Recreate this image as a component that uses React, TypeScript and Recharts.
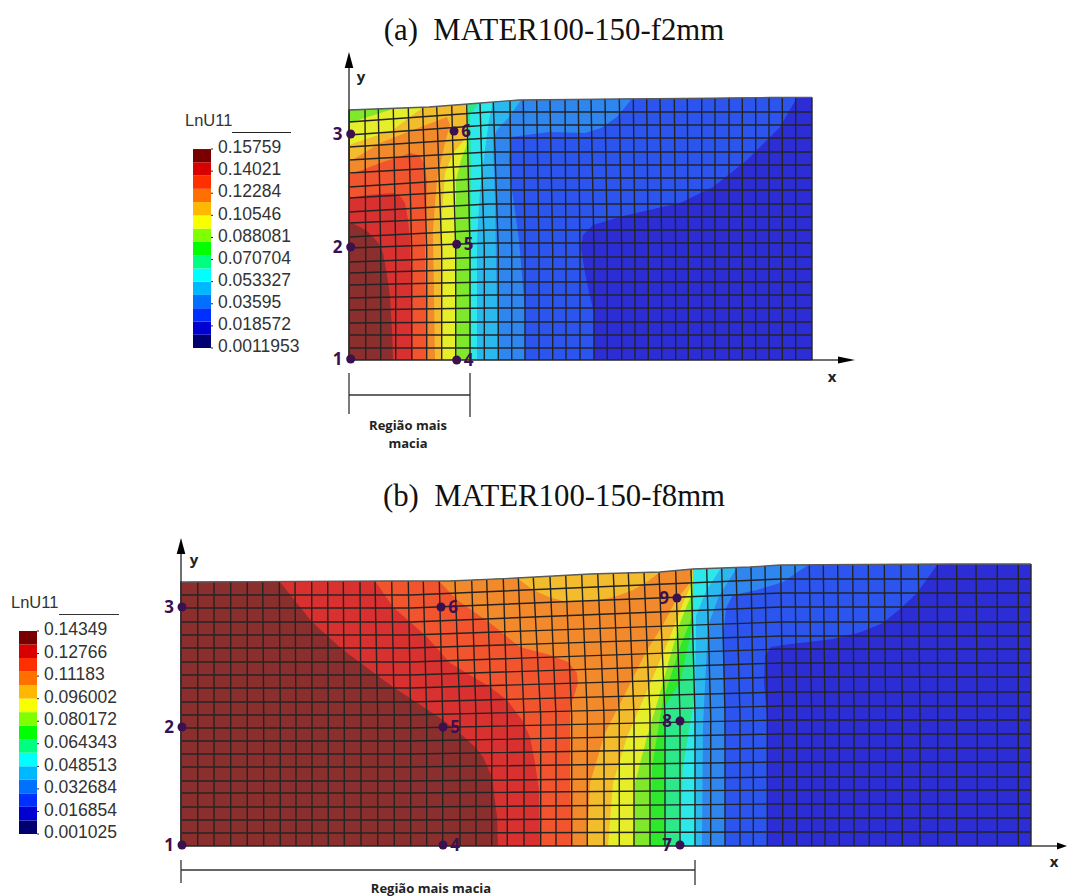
import { Bar, BarChart, LabelList, Scatter, ScatterChart, XAxis, YAxis, ZAxis } from "recharts";

type P = [number, number];

const contourColors = {
  dark: "#2d2dd6",
  blue: "#2c55f0",
  lighter: "#2e86ee",
  sky: "#2ab8ee",
  cyan: "#2de8e8",
  mint: "#2de88a",
  green: "#2ee82e",
  lime: "#80e82a",
  yellow: "#e6ee2a",
  gold: "#f2bc2c",
  orange: "#f28a2c",
  redOrange: "#f2552e",
  red: "#d93030",
  maroon: "#8a2e2e",
};

const swatchColors = [
  "#000070", "#0000d0", "#0030ff", "#0070ff", "#00b8ff", "#00ffff", "#00ff80", "#00ff00",
  "#80ff00", "#f8ff00", "#ffb800", "#ff7000", "#ff3000", "#d80000", "#780000",
];

const ticksA = [0.15759, 0.14021, 0.12284, 0.10546, 0.088081, 0.070704, 0.053327, 0.03595, 0.018572, 0.0011953];
const ticksB = [0.14349, 0.12766, 0.11183, 0.096002, 0.080172, 0.064343, 0.048513, 0.032684, 0.016854, 0.001025];
const swatchesA = [0.01162, 0.01043, 0.01042, 0.01042, 0.01043, 0.01042, 0.01042, 0.01043, 0.01042, 0.01042, 0.01043, 0.01042, 0.01042, 0.01043, 0.01042];
const swatchesB = [0.01058, 0.00950, 0.00949, 0.00950, 0.00950, 0.00949, 0.00950, 0.00950, 0.00949, 0.00950, 0.00950, 0.00949, 0.00950, 0.00950, 0.00949];

// (a) mesh, in units from the lower left corner
const outlineA: P[] = [[0, 0], [463, 0], [463, 262.7], [420, 262.5], [170, 260], [119, 256], [80, 253], [0, 250]];
const topA: P[] = [[170, 260], [119, 256], [80, 253], [0, 250]];
const rowLeftA = [0, 12, 25, 37, 50, 62, 75, 87, 98, 112, 123, 137, 148, 162, 173, 187, 200, 213, 225, 238];
const rowRightA = [0, 12, 25, 38, 52, 65, 78, 91, 103, 117, 130, 143, 156, 170, 182, 195, 208, 222, 235, 248];
const colBottomA = [0.3, 16.7, 31.7, 46.7, 62.7, 77.7, 92.7, 106.7, 121, 135.3, 149.3, 162.7, 176, 190, 203.7, 217, 231, 245, 258.3, 272.7, 286, 299.3, 312.7, 326.7, 339.3, 352.7, 366, 380, 393.3, 406.7, 420, 433.3, 446.7, 463];
const colTopA = [0.3, 16, 29.3, 44.3, 59.3, 73.7, 87.7, 102.7, 117.7, 131, 144.3, 161, 174.3, 187.7, 201, 216, 229.3, 242, 256, 270.3, 284.3, 297.7, 311, 325.3, 338.3, 352.7, 366, 380, 393.3, 406.7, 420, 433.3, 446.7, 463];
const colTopYA = [250, 250.5, 251, 251.5, 252, 253, 253.5, 254.5, 256, 257, 258, 259, 260, 260.2, 260.4, 260.6, 260.8, 261, 261.2, 261.4, 261.5, 261.6, 261.7, 261.8, 261.9, 262, 262.1, 262.2, 262.3, 262.4, 262.5, 262.6, 262.7, 262.7];

const contoursA: { color: string; points: P[] }[] = [
  { color: contourColors.dark, points: outlineA },
  { color: contourColors.blue, points: [[0, 0], [245, 0], [245, 47], [240, 68], [236, 87], [232, 112], [234, 125], [244, 135], [274, 144], [331, 157], [364, 173], [398, 200], [431, 233], [448, 262.5], [420, 262.5], ...topA] },
  { color: contourColors.lighter, points: [[0, 0], [176, 0], [176, 50], [170, 120], [163, 170], [160, 200], [162, 223], [200, 228], [236, 227], [252, 232], [268, 243], [283, 261.5], ...topA] },
  { color: contourColors.sky, points: [[0, 0], [149, 0], [147, 100], [146, 160], [144, 220], [148, 230], [160, 243], [172, 260], ...topA.slice(1)] },
  { color: contourColors.cyan, points: [[0, 0], [128, 0], [128, 120], [131, 170], [136, 210], [140, 240], [144, 258], ...topA.slice(1)] },
  { color: contourColors.mint, points: [[0, 0], [122, 0], [122, 200], [121, 245], [130, 257], ...topA.slice(1)] },
  { color: contourColors.lime, points: [[0, 0], [121, 0], [120, 150], [119, 220], ...topA.slice(1)] },
  { color: contourColors.yellow, points: [[0, 0], [107, 0], [107, 180], [112, 200], [118, 216], [119, 256], [80, 253], [44, 251], [0, 237]] },
  { color: contourColors.gold, points: [[0, 0], [93, 0], [92, 130], [96, 187], [104, 207], [117, 222], [119, 256], [73, 252], [44, 230], [0, 215]] },
  { color: contourColors.orange, points: [[0, 0], [86, 0], [84, 130], [88, 180], [96, 217], [101, 235], [98, 243], [64, 230], [31, 217], [0, 198]] },
  { color: contourColors.redOrange, points: [[0, 0], [78, 0], [76, 120], [78, 177], [76, 195], [70, 205], [61, 207], [31, 197], [0, 185]] },
  { color: contourColors.red, points: [[0, 0], [64, 0], [63, 60], [61, 120], [59, 140], [56, 157], [51, 164], [44, 167], [30, 166], [18, 165], [0, 162]] },
  { color: contourColors.maroon, points: [[0, 0], [44, 0], [43, 30], [41, 63], [38, 85], [34, 107], [30, 116], [24, 123], [18, 129], [11, 133], [5, 136], [0, 136]] },
];

const nodesLeftA = [{ x: 1.7, y: 1, label: "1" }, { x: 1.7, y: 113, label: "2" }, { x: 1.7, y: 226, label: "3" }];
const nodesRightA = [{ x: 107.7, y: 0, label: "4" }, { x: 107.7, y: 115.7, label: "5" }, { x: 105, y: 229, label: "6" }];
const axisLabelsA = [{ x: 12, y: 283, label: "y" }, { x: 483, y: -17, label: "x" }];
const noteA = [{ x: 59, y: -65, label: "Região mais" }, { x: 59, y: -83, label: "macia" }];
const axisYA: P[] = [[0, 0], [0, 300]];
const axisXA: P[] = [[463, 0], [495, 0]];
const arrowYA: P[] = [[0, 308], [-4.3, 292], [4.3, 292]];
const arrowXA: P[] = [[506, 0], [489, 3.5], [489, -3.5]];
const bracketA: P[][] = [[[0, -13], [0, -54]], [[121, -13], [121, -57]], [[0, -35], [121, -35]]];

// (b) mesh
const topB: P[] = [[512, 277], [479, 274], [409, 272], [336, 268], [269, 265], [206, 265], [0, 264]];
const outlineB: P[] = [[0, 0], [850, 0], [850, 282], [769, 282], [599, 281], [569, 279], ...topB];
const rowLeftB = [0, 13, 26, 39, 53, 65, 79, 92, 105, 118, 131, 144, 158, 171, 184, 198, 211, 224, 238, 251];
const rowRightB = [0, 14, 28, 42, 56, 69, 84, 98, 112, 126, 140, 154, 169, 183, 197, 210, 224, 239, 253, 267];
const colBottomB = [0, 16.7, 33, 49.7, 66.3, 82.7, 99.3, 115, 131, 147.3, 163.3, 180, 196.7, 213.3, 229.7, 245.7, 261.7, 279, 295, 310.7, 326.3, 343, 359.7, 375, 390.7, 406.3, 423, 438.3, 453, 469, 484, 499, 514, 529.7, 544, 559, 572.3, 586.3, 601.7, 615.7, 630.7, 644, 658.3, 673, 688.3, 704.7, 721.3, 739, 756.7, 775.7, 796.3, 816.3, 837.3, 850];
const colTopB = [0, 16.7, 33, 49.7, 66.3, 81.7, 98.3, 114, 130.7, 146.7, 162.3, 179, 194, 210.7, 227.3, 242.3, 258.3, 274, 290.7, 305.7, 322.3, 337.3, 352.3, 369, 384.7, 400.7, 416.7, 432.3, 447.3, 463, 478, 494.7, 510, 525.7, 540.7, 555, 570, 584, 599.7, 614, 628.3, 642.3, 656.7, 671.7, 687.3, 703.3, 720, 737.3, 756.3, 775.7, 795, 816.3, 837.3, 850];
const colTopYB = [264, 264, 264, 264.2, 264.4, 264.6, 264.8, 265, 265, 265, 265, 265, 265, 265, 265, 265, 265, 265, 265.5, 266, 267, 268, 268.7, 269.5, 270.5, 271.5, 272.3, 273, 273.5, 273.6, 274, 275.5, 277, 277.5, 278, 278.7, 279, 280, 281, 281, 281.2, 281.3, 281.4, 281.5, 281.6, 281.7, 281.8, 281.9, 282, 282, 282, 282, 282, 282];

const contoursB: { color: string; points: P[] }[] = [
  { color: contourColors.dark, points: outlineB },
  { color: contourColors.blue, points: [[0, 0], [586, 0], [586, 129], [583, 163], [584, 190], [590, 199], [602, 201], [652, 207], [680, 214], [702, 223], [720, 238], [736, 253], [756, 281], [599, 281], [569, 279], ...topB] },
  { color: contourColors.lighter, points: [[0, 0], [544, 0], [544, 129], [542, 206], [545, 238], [552, 251], [576, 256], [602, 264], [627, 281], [599, 281], [569, 279], ...topB] },
  { color: contourColors.sky, points: [[0, 0], [521, 0], [522, 120], [527, 220], [538, 250], [556, 278.5], ...topB] },
  { color: contourColors.cyan, points: [[0, 0], [514, 0], [514, 150], [515, 230], [525, 255], [540, 278], ...topB] },
  { color: contourColors.mint, points: [[0, 0], [499, 0], [502, 79], [513, 146], [513, 200], ...topB] },
  { color: contourColors.green, points: [[0, 0], [484, 0], [484, 140], [499, 163], [512, 223], ...topB] },
  { color: contourColors.lime, points: [[0, 0], [469, 0], [471, 79], [482, 146], [499, 199], [511, 229], ...topB] },
  { color: contourColors.yellow, points: [[0, 0], [452, 0], [454, 63], [466, 109], [477, 146], [489, 189], [499, 223], [511, 253], ...topB] },
  { color: contourColors.gold, points: [[0, 0], [427, 0], [432, 63], [446, 109], [459, 139], [472, 169], [489, 209], [502, 243], [511, 263], ...topB] },
  { color: contourColors.orange, points: [[0, 0], [406, 0], [409, 63], [424, 113], [446, 156], [466, 196], [482, 221], [495, 246], [508, 262], [511, 277], [479, 274], [466, 264], [452, 256], [436, 250], [419, 246], [402, 244], [386, 244], [368, 249], [352, 256], [336, 268], [269, 265], [206, 265], [0, 264]] },
  { color: contourColors.redOrange, points: [[0, 0], [391, 0], [389, 63], [389, 139], [394, 153], [397, 163], [396, 173], [387, 184], [369, 191], [339, 199], [309, 223], [276, 246], [259, 264], [206, 265], [0, 264]] },
  { color: contourColors.red, points: [[0, 0], [359, 0], [358, 56], [354, 83], [349, 109], [341, 126], [326, 146], [309, 159], [269, 183], [246, 209], [212, 239], [194, 265], [0, 264]] },
  { color: contourColors.maroon, points: [[0, 0], [317, 0], [316, 29], [311, 69], [302, 89], [294, 99], [282, 110], [262, 126], [212, 159], [162, 196], [131, 224], [99, 264], [0, 264]] },
];

const nodesLeftB = [
  { x: 1, y: 1, label: "1" }, { x: 1, y: 119, label: "2" }, { x: 1, y: 239, label: "3" },
  { x: 499, y: 1, label: "7" }, { x: 499, y: 125, label: "8" }, { x: 496, y: 248, label: "9" },
];
const nodesRightB = [{ x: 262, y: 1, label: "4" }, { x: 262, y: 119, label: "5" }, { x: 260, y: 239, label: "6" }];
const axisLabelsB = [{ x: 13, y: 286, label: "y" }, { x: 873, y: -16, label: "x" }];
const noteB = [{ x: 250, y: -42, label: "Região mais macia" }];
const axisYB: P[] = [[0, 0], [0, 300]];
const axisXB: P[] = [[850, 0], [880, 0]];
const arrowYB: P[] = [[0, 308], [-4.3, 292], [4.3, 292]];
const arrowXB: P[] = [[886, 0], [876, 3.5], [876, -3.5]];
const bracketB: P[][] = [[[0, -14], [0, -37]], [[514, -14], [514, -39]], [[0, -24], [514, -24]]];

const toPoints = (points: P[]) => points.map(([x, y]) => ({ x, y }));
const noDot = () => <g />;

const NODE_COLOR = "#3b1050";
const MESH_COLOR = "#242424";
const NOTE_FONT = { fontFamily: "Open Sans", fontWeight: 700, fontSize: 13, fill: "#222" };
const NODE_FONT = { fontFamily: "Open Sans", fontWeight: 700, fontSize: 17, fill: NODE_COLOR };
const AXIS_FONT = { fontFamily: "Open Sans", fontWeight: 700, fontSize: 15, fill: "#222" };

// LabelList wraps to the dot's box, so the label text is placed by hand around the dot
const labelAt = (dx: number, style: object) => (props: any) => (
  <text x={props.x + props.width / 2 + dx} y={props.y + props.height / 2} dy="0.35em" textAnchor="middle" style={style}>
    {props.value}
  </text>
);

function polyline(key: string, points: P[], stroke: string, strokeWidth: number) {
  return (
    <Scatter key={key} data={toPoints(points)} shape={noDot} line={{ stroke, strokeWidth, fill: "none" }} isAnimationActive={false} />
  );
}

function textItems(key: string, data: { x: number; y: number; label: string }[], style: object) {
  return (
    <Scatter key={key} data={data} shape={noDot} isAnimationActive={false}>
      <LabelList dataKey="label" content={labelAt(0, style)} />
    </Scatter>
  );
}

interface MeshProps {
  left: number;
  top: number;
  xDomain: [number, number];
  yDomain: [number, number];
  contours: { color: string; points: P[] }[];
  outline: P[];
  rowLeft: number[];
  rowRight: number[];
  rowKnees: [number, number];
  colBottom: number[];
  colTop: number[];
  colTopY: number[];
  colKnee: number;
  nodesLeft: { x: number; y: number; label: string }[];
  nodesRight: { x: number; y: number; label: string }[];
  axisLabels: { x: number; y: number; label: string }[];
  note: { x: number; y: number; label: string }[];
  axisY: P[];
  axisX: P[];
  arrowY: P[];
  arrowX: P[];
  bracket: P[][];
}

function MeshChart(p: MeshProps) {
  const width = p.xDomain[1] - p.xDomain[0];
  const height = p.yDomain[1] - p.yDomain[0];
  const xRight = p.outline[1][0];
  return (
    <div style={{ position: "absolute", left: p.left, top: p.top }}>
      <ScatterChart width={width} height={height} margin={{ top: 0, right: 0, bottom: 0, left: 0 }}>
        <XAxis type="number" dataKey="x" domain={p.xDomain} allowDataOverflow hide />
        <YAxis type="number" dataKey="y" domain={p.yDomain} allowDataOverflow hide />
        <ZAxis range={[76, 76]} />
        {p.contours.map((c, i) => (
          <Scatter key={`c${i}`} data={toPoints(c.points)} shape={noDot} line={{ fill: c.color, stroke: "none" }} isAnimationActive={false} />
        ))}
        {p.rowLeft.map((yl, i) =>
          polyline(`r${i}`, [[0, yl], [p.rowKnees[0], yl], [p.rowKnees[1], p.rowRight[i]], [xRight, p.rowRight[i]]], MESH_COLOR, i === 0 ? 1.6 : 1.4)
        )}
        {p.colBottom.map((xb, i) =>
          polyline(`k${i}`, [[xb, 0], [xb, p.colKnee], [p.colTop[i], p.colTopY[i]]], MESH_COLOR, 1.4)
        )}
        {polyline("top", [...p.outline.slice(2), p.outline[0]], "#5a5a5a", 1.3)}
        {polyline("axisY", p.axisY, "#222", 1.3)}
        {polyline("axisX", p.axisX, "#222", 1.3)}
        <Scatter data={toPoints(p.arrowY)} shape={noDot} line={{ fill: "#000", stroke: "none" }} isAnimationActive={false} />
        <Scatter data={toPoints(p.arrowX)} shape={noDot} line={{ fill: "#000", stroke: "none" }} isAnimationActive={false} />
        {p.bracket.map((b, i) => polyline(`b${i}`, b, "#333", 1.3))}
        <Scatter data={p.nodesLeft} fill={NODE_COLOR} isAnimationActive={false}>
          <LabelList dataKey="label" content={labelAt(-13, NODE_FONT)} />
        </Scatter>
        <Scatter data={p.nodesRight} fill={NODE_COLOR} isAnimationActive={false}>
          <LabelList dataKey="label" content={labelAt(12, NODE_FONT)} />
        </Scatter>
        {textItems("axisLabels", p.axisLabels, AXIS_FONT)}
        {textItems("note", p.note, NOTE_FONT)}
      </ScatterChart>
    </div>
  );
}

function ColorBar({ left, top, plotHeight, swatches, ticks }: { left: number; top: number; plotHeight: number; swatches: number[]; ticks: number[] }) {
  const row: Record<string, number | string> = { name: "LnU11" };
  swatches.forEach((v, i) => {
    row[`s${i}`] = v;
  });
  const margin = 12;
  return (
    <div style={{ position: "absolute", left, top: top - margin }}>
      <BarChart
        width={118}
        height={plotHeight + margin * 2}
        data={[row]}
        barCategoryGap={0}
        margin={{ top: margin, right: 0, bottom: margin, left: 0 }}
      >
        <XAxis dataKey="name" hide />
        <YAxis
          orientation="right"
          type="number"
          width={100}
          domain={[ticks[ticks.length - 1], ticks[0]]}
          ticks={ticks}
          interval={0}
          allowDataOverflow
          axisLine={false}
          tickLine={{ stroke: "#222" }}
          tickSize={2}
          tickMargin={5}
          tickFormatter={(v: number) => String(v)}
          tick={{ fontFamily: "Liberation Sans", fontSize: 17.5, fill: "#333", textAnchor: "start", dy: -2 }}
        />
        {swatches.map((_, i) => (
          <Bar key={i} dataKey={`s${i}`} stackId="scale" fill={swatchColors[i]} isAnimationActive={false} />
        ))}
      </BarChart>
    </div>
  );
}

const titleStyle: React.CSSProperties = {
  position: "absolute",
  left: 0,
  width: 1108,
  textAlign: "center",
  fontFamily: "Liberation Serif",
  fontSize: 30.8,
  color: "#111",
  whiteSpace: "pre",
  lineHeight: "32px",
};
const legendTitle: React.CSSProperties = {
  position: "absolute",
  fontFamily: "Liberation Sans",
  fontSize: 16.5,
  color: "#333",
  lineHeight: "20px",
};

export default function App() {
  return (
    <div style={{ position: "absolute", left: 0, top: 0, width: 1067, height: 896, overflow: "hidden", background: "#fff" }}>
      <div style={{ ...titleStyle, top: 14 }}>{"(a)  MATER100-150-f2mm"}</div>
      <div style={{ ...titleStyle, top: 480 }}>{"(b)  MATER100-150-f8mm"}</div>

      <div style={{ ...legendTitle, left: 185, top: 110 }}>LnU11</div>
      <div style={{ position: "absolute", left: 232, top: 132, width: 59, height: 1, background: "#222" }} />
      <ColorBar left={193} top={149} plotHeight={199} swatches={swatchesA} ticks={ticksA} />

      <div style={{ ...legendTitle, left: 11, top: 592 }}>LnU11</div>
      <div style={{ position: "absolute", left: 59, top: 614, width: 60, height: 1, background: "#333" }} />
      <ColorBar left={19} top={631} plotHeight={203} swatches={swatchesB} ticks={ticksB} />

      <MeshChart
        left={319}
        top={50}
        xDomain={[-30, 520]}
        yDomain={[-95, 310]}
        contours={contoursA}
        outline={outlineA}
        rowLeft={rowLeftA}
        rowRight={rowRightA}
        rowKnees={[0, 140]}
        colBottom={colBottomA}
        colTop={colTopA}
        colTopY={colTopYA}
        colKnee={110}
        nodesLeft={nodesLeftA}
        nodesRight={nodesRightA}
        axisLabels={axisLabelsA}
        note={noteA}
        axisY={axisYA}
        axisX={axisXA}
        arrowY={arrowYA}
        arrowX={arrowXA}
        bracket={bracketA}
      />
      <MeshChart
        left={151}
        top={536}
        xDomain={[-30, 898]}
        yDomain={[-50, 310]}
        contours={contoursB}
        outline={outlineB}
        rowLeft={rowLeftB}
        rowRight={rowRightB}
        rowKnees={[230, 600]}
        colBottom={colBottomB}
        colTop={colTopB}
        colTopY={colTopYB}
        colKnee={130}
        nodesLeft={nodesLeftB}
        nodesRight={nodesRightB}
        axisLabels={axisLabelsB}
        note={noteB}
        axisY={axisYB}
        axisX={axisXB}
        arrowY={arrowYB}
        arrowX={arrowXB}
        bracket={bracketB}
      />
    </div>
  );
}
